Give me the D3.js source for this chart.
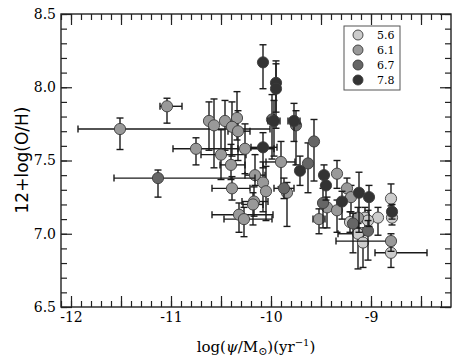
<!DOCTYPE html>
<html>
<head>
<meta charset="utf-8">
<script src="https://cdn.jsdelivr.net/npm/d3@7"></script>
<style>
  body { margin: 0; background: #fff; }
  .tick text { font-family: "DejaVu Serif", serif; font-size: 14px; fill: #000; }
  .domain { display: none; }
  .tick line { stroke: #222; stroke-width: 1.2; }
</style>
</head>
<body>
<svg width="458" height="361"></svg>
<script>
const width = 458;
const height = 361;

// mass bins shown in the legend
const massBins = [5.6, 6.1, 6.7, 7.8];
const binFill = ["#cccccc", "#999999", "#666666", "#333333"];

// log specific SFR and metallicity
const logSSFR = [-11.51, -11.04, -10.75, -11.13, -10.62, -10.57, -10.46, -10.34, -10.39, -10.33,
  -10.50, -10.26, -10.40, -10.16, -10.08, -9.95, -9.95, -9.99, -9.97, -9.77,
  -9.75, -10.08, -9.57, -9.90, -9.63, -9.71, -9.47, -9.45, -9.34, -10.39,
  -10.08, -10.05, -10.17, -10.18, -10.32, -10.27, -9.87, -9.84, -9.48, -9.44,
  -9.52, -9.34, -9.29, -9.24, -9.20, -9.12, -9.02, -8.80, -8.79, -8.79,
  -8.93, -9.06, -9.03, -9.21, -9.18, -9.13, -9.13, -9.03, -9.08, -8.80, -8.80];
const oh = [7.715, 7.87, 7.58, 7.38, 7.77, 7.74, 7.77, 7.79, 7.73, 7.70,
  7.54, 7.58, 7.47, 7.40, 8.17, 8.03, 7.99, 7.78, 7.77, 7.77,
  7.74, 7.59, 7.63, 7.49, 7.48, 7.43, 7.40, 7.33, 7.41, 7.31,
  7.35, 7.29, 7.22, 7.20, 7.13, 7.10, 7.31, 7.28, 7.21, 7.18,
  7.10, 7.16, 7.22, 7.31, 7.25, 7.28, 7.25, 7.24, 7.15, 7.11,
  7.11, 7.11, 7.09, 7.08, 7.07, 7.11, 7.00, 7.02, 6.94, 6.95, 6.87];
const bin = [6.1, 6.1, 6.1, 6.7, 6.1, 6.1, 6.1, 6.1, 6.1, 6.1,
  6.1, 6.1, 6.1, 6.1, 7.8, 7.8, 7.8, 6.7, 7.8, 7.8,
  6.7, 7.8, 6.7, 6.1, 6.7, 7.8, 7.8, 7.8, 6.1, 6.1,
  6.1, 6.1, 6.1, 6.1, 6.1, 6.1, 6.7, 6.1, 6.7, 6.1,
  6.1, 6.1, 7.8, 6.1, 6.1, 7.8, 7.8, 5.6, 7.8, 5.6,
  5.6, 5.6, 5.6, 5.6, 6.7, 6.1, 5.6, 6.7, 5.6, 6.1, 5.6];
// errors (lower / upper)
const xErrLo = [0.42, 0.07, 0.23, 0.44, 0, 0, 0, 0, 0, 0.10,
  0.20, 0.07, 0.11, 0.10, 0, 0, 0, 0, 0.06, 0.06,
  0, 0.12, 0, 0.15, 0, 0, 0, 0, 0, 0.20,
  0, 0, 0.12, 0.10, 0.27, 0.20, 0.10, 0, 0, 0,
  0.06, 0, 0, 0, 0, 0, 0, 0, 0.04, 0,
  0, 0, 0, 0, 0, 0, 0.20, 0, 0, 0.55, 0.16];
const xErrHi = [1.50, 0.15, 0.45, 0.97, 0, 0, 0, 0, 0, 0.12,
  0.25, 0.29, 0.14, 0.10, 0, 0, 0, 0, 0.06, 0.06,
  0, 0.14, 0, 0.14, 0, 0, 0, 0, 0, 0.18,
  0, 0, 0.14, 0.10, 0.34, 0.28, 0.10, 0, 0, 0,
  0.06, 0, 0, 0, 0, 0, 0, 0, 0.04, 0,
  0, 0, 0, 0, 0, 0, 0.05, 0, 0, 0.02, 0.36];
const yErrLo = [0.14, 0.115, 0.11, 0.13, 0.20, 0.29, 0.20, 0.15, 0.20, 0.20,
  0.17, 0.17, 0.10, 0.07, 0.18, 0.20, 0.27, 0.27, 0.24, 0.14,
  0.27, 0.14, 0.27, 0.17, 0.20, 0.10, 0.07, 0.10, 0.10, 0.08,
  0.20, 0.20, 0.10, 0.14, 0.12, 0.12, 0.07, 0.23, 0.17, 0.14,
  0.10, 0.15, 0.12, 0.07, 0.10, 0.27, 0.20, 0.05, 0.05, 0.05,
  0.12, 0.07, 0.07, 0.07, 0.20, 0.07, 0.24, 0.20, 0.17, 0.07, 0.10];
const yErrHi = [0.075, 0.055, 0.075, 0.055, 0.13, 0.18, 0.14, 0.18, 0.17, 0.14,
  0.17, 0.17, 0.14, 0.14, 0.12, 0.15, 0.17, 0.17, 0.14, 0.12,
  0.10, 0.10, 0.15, 0.14, 0.14, 0.10, 0.07, 0.07, 0.09, 0.08,
  0.14, 0.17, 0.10, 0.08, 0.08, 0.08, 0.07, 0.07, 0.10, 0.07,
  0.07, 0.07, 0.07, 0.07, 0.08, 0.14, 0.08, 0.10, 0.05, 0.05,
  0.07, 0.07, 0.07, 0.07, 0.07, 0.07, 0.07, 0.07, 0.05, 0.05, 0.05];

const majorX = d3.range(-12, -8.2, 0.5);
const minorX = d3.range(-12.1, -8.2, 0.1);
const majorY = d3.range(6.5, 8.51, 0.5);
const minorY = d3.range(6.5, 8.51, 0.1);

let data = logSSFR.map((x, i) => ({
  x: x, y: oh[i], bin: bin[i],
  xlo: xErrLo[i], xhi: xErrHi[i], ylo: yErrLo[i], yhi: yErrHi[i]
}));

let xScale = d3.scaleLinear().domain([-12.1, -8.2]).range([61, 451]);
let yScale = d3.scaleLinear().domain([6.5, 8.5]).range([307, 14]);
let fillScale = d3.scaleOrdinal().domain(massBins).range(binFill);

let svg = d3.select("svg");
let plot = svg.append("g");

// error bars and markers, one bin at a time
massBins.forEach(b => {
  let pts = data.filter(d => d.bin === b);
  let g = plot.append("g");
  let bars = g.selectAll("g.err").data(pts).enter().append("g")
    .attr("stroke", "#1a1a1a").attr("stroke-width", 1.4).attr("fill", "none");
  bars.filter(d => d.xlo + d.xhi > 0).append("line")
    .attr("x1", d => xScale(d.x - d.xlo)).attr("x2", d => xScale(d.x + d.xhi))
    .attr("y1", d => yScale(d.y)).attr("y2", d => yScale(d.y));
  bars.filter(d => d.xlo > 0).append("line")
    .attr("x1", d => xScale(d.x - d.xlo)).attr("x2", d => xScale(d.x - d.xlo))
    .attr("y1", d => yScale(d.y) - 3.5).attr("y2", d => yScale(d.y) + 3.5);
  bars.filter(d => d.xhi > 0).append("line")
    .attr("x1", d => xScale(d.x + d.xhi)).attr("x2", d => xScale(d.x + d.xhi))
    .attr("y1", d => yScale(d.y) - 3.5).attr("y2", d => yScale(d.y) + 3.5);
  bars.append("line")
    .attr("x1", d => xScale(d.x)).attr("x2", d => xScale(d.x))
    .attr("y1", d => yScale(d.y - d.ylo)).attr("y2", d => yScale(d.y + d.yhi));
  [d => d.y - d.ylo, d => d.y + d.yhi].forEach(f => {
    bars.append("line")
      .attr("x1", d => xScale(d.x) - 3.5).attr("x2", d => xScale(d.x) + 3.5)
      .attr("y1", d => yScale(f(d))).attr("y2", d => yScale(f(d)));
  });
  g.selectAll("circle").data(pts).enter().append("circle")
    .attr("cx", d => xScale(d.x))
    .attr("cy", d => yScale(d.y))
    .attr("r", 5.6)
    .attr("fill", d => fillScale(d.bin))
    .attr("stroke", "#3a3a3a")
    .attr("stroke-width", 0.9);
});

// axes with inward ticks on all four sides
function addAxis(axisFn, scale, ticks, size, fmt, transform) {
  let ax = axisFn(scale).tickValues(ticks).tickSizeInner(-size).tickSizeOuter(0)
    .tickPadding(5).tickFormat(fmt);
  svg.append("g").attr("transform", transform).call(ax);
}
const none = () => "";
const xFmt = d => Math.abs(d - Math.round(d)) < 1e-6 ? String(Math.round(d)) : "";
addAxis(d3.axisBottom, xScale, minorX, 6, none, "translate(0,307)");
addAxis(d3.axisBottom, xScale, majorX, 11, xFmt, "translate(0,307)");
addAxis(d3.axisTop, xScale, minorX, 6, none, "translate(0,14)");
addAxis(d3.axisTop, xScale, majorX, 11, none, "translate(0,14)");
addAxis(d3.axisLeft, yScale, minorY, 6, none, "translate(61,0)");
addAxis(d3.axisLeft, yScale, majorY, 11, d3.format(".1f"), "translate(61,0)");
addAxis(d3.axisRight, yScale, minorY, 6, none, "translate(451,0)");
addAxis(d3.axisRight, yScale, majorY, 11, none, "translate(451,0)");

svg.append("rect")
  .attr("x", 61).attr("y", 14).attr("width", 390).attr("height", 293)
  .attr("fill", "none").attr("stroke", "#222").attr("stroke-width", 1.4);

// legend
let legend = svg.append("g").attr("transform", "translate(344,26)");
legend.append("rect").attr("width", 56).attr("height", 64)
  .attr("fill", "#fff").attr("stroke", "#555").attr("stroke-width", 1);
massBins.forEach((b, i) => {
  legend.append("circle").attr("cx", 14).attr("cy", 9 + i * 15).attr("r", 5)
    .attr("fill", fillScale(b)).attr("stroke", "#3a3a3a").attr("stroke-width", 0.9);
  legend.append("text").attr("x", 33).attr("y", 13 + i * 15)
    .style("font-family", "DejaVu Serif, serif").style("font-size", "11px")
    .text(b);
});

// axis labels
let xl = svg.append("text")
  .attr("x", 256).attr("y", 352)
  .style("text-anchor", "middle")
  .style("font-family", "DejaVu Serif, serif").style("font-size", "15px");
xl.append("tspan").text("log(");
xl.append("tspan").style("font-style", "italic").text("ψ");
xl.append("tspan").text("/M");
xl.append("tspan").attr("dy", 3).style("font-size", "11px").text("⊙");
xl.append("tspan").attr("dy", -3).text(")(yr");
xl.append("tspan").attr("dy", -6).style("font-size", "10px").text("−1");
xl.append("tspan").attr("dy", 6).text(")");

svg.append("text")
  .attr("transform", "rotate(-90)")
  .attr("x", -160).attr("y", 28)
  .style("text-anchor", "middle")
  .style("font-family", "DejaVu Sans, sans-serif").style("font-size", "17px")
  .text("12+log(O/H)");
</script>
</body>
</html>
